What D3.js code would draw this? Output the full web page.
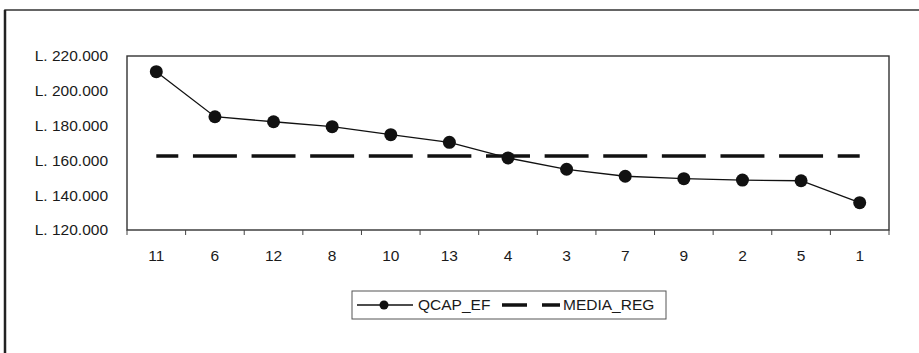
<!DOCTYPE html>
<html>
<head>
<meta charset="utf-8">
<script src="https://cdn.jsdelivr.net/npm/d3@7"></script>
<style>
  html, body { margin: 0; padding: 0; background: #fff; }
  svg { display: block; }
  text { font-family: "Liberation Sans", Arial, sans-serif; fill: #1a1a1a; }
</style>
</head>
<body>
<svg id="chart" width="919" height="353"></svg>
<script>
// Cost per unit by region, sorted descending, with the regional average
const categories = ["11", "6", "12", "8", "10", "13", "4", "3", "7", "9", "2", "5", "1"];
const qcapEf = [211000, 185100, 182200, 179400, 174800, 170400, 161400, 154900, 150900, 149500, 148700, 148300, 135700];
const mediaReg = 162500;
const yTicks = [120000, 140000, 160000, 180000, 200000, 220000];
const seriesNames = ["QCAP_EF", "MEDIA_REG"];

const svg = d3.select("#chart");
const W = 919, H = 353;
const plot = { left: 127, top: 56, right: 889, bottom: 230 };
const fontSize = 15.5;

// Outer frame (extends past the visible edge on the right and bottom)
svg.append("rect")
  .attr("x", 5).attr("y", 10)
  .attr("width", W + 20).attr("height", H + 20)
  .attr("fill", "none").attr("stroke", "#333").attr("stroke-width", 1.5);
svg.append("line")
  .attr("x1", 5).attr("x2", 5).attr("y1", 10).attr("y2", H)
  .attr("stroke", "#222").attr("stroke-width", 2.5);

const x = d3.scaleBand().domain(categories).range([plot.left, plot.right]);
const y = d3.scaleLinear().domain([120000, 220000]).range([plot.bottom, plot.top]);
const cx = d => x(d) + x.bandwidth() / 2;

// Plot area border
svg.append("rect")
  .attr("x", plot.left).attr("y", plot.top)
  .attr("width", plot.right - plot.left).attr("height", plot.bottom - plot.top)
  .attr("fill", "none").attr("stroke", "#333").attr("stroke-width", 1.4);

// Y axis labels, "L. 220.000" style
const fmt = v => "L. " + d3.format(",")(v).replace(/,/g, ".");
svg.append("g").selectAll("text")
  .data(yTicks).join("text")
  .attr("x", 108).attr("y", d => y(d))
  .attr("dy", "0.35em")
  .attr("text-anchor", "end")
  .attr("font-size", fontSize)
  .text(fmt);

// X axis ticks at category boundaries
const bounds = categories.map(c => x(c)).concat([plot.right]);
svg.append("g").selectAll("line")
  .data(bounds).join("line")
  .attr("x1", d => d).attr("x2", d => d)
  .attr("y1", plot.bottom).attr("y2", plot.bottom + 5)
  .attr("stroke", "#444").attr("stroke-width", 1);

svg.append("g").selectAll("text")
  .data(categories).join("text")
  .attr("x", d => cx(d)).attr("y", plot.bottom + 26)
  .attr("dy", "0.35em")
  .attr("text-anchor", "middle")
  .attr("font-size", fontSize)
  .text(d => d);

// Regional average: dashes centred on each category
const step = x.step();
const dash = step * 0.75, gap = step - dash;
svg.append("line")
  .attr("x1", cx(categories[0])).attr("x2", cx(categories[categories.length - 1]))
  .attr("y1", y(mediaReg)).attr("y2", y(mediaReg))
  .attr("stroke", "#111").attr("stroke-width", 3.5)
  .attr("stroke-dasharray", `${dash} ${gap}`)
  .attr("stroke-dashoffset", dash / 2);

// QCAP_EF line and markers
const line = d3.line().x((d, i) => cx(categories[i])).y(d => y(d));
svg.append("path")
  .datum(qcapEf)
  .attr("d", line)
  .attr("fill", "none").attr("stroke", "#111").attr("stroke-width", 1.3);
svg.append("g").selectAll("circle")
  .data(qcapEf).join("circle")
  .attr("cx", (d, i) => cx(categories[i])).attr("cy", d => y(d))
  .attr("r", 6.5).attr("fill", "#111");

// Legend
const lg = svg.append("g");
lg.append("rect")
  .attr("x", 352).attr("y", 291).attr("width", 314).attr("height", 28)
  .attr("fill", "#fff").attr("stroke", "#555").attr("stroke-width", 1);
const ly = 305;
lg.append("line").attr("x1", 357).attr("x2", 413).attr("y1", ly).attr("y2", ly)
  .attr("stroke", "#111").attr("stroke-width", 1.3);
lg.append("circle").attr("cx", 384).attr("cy", ly).attr("r", 4.5).attr("fill", "#111");
lg.append("text").attr("x", 418).attr("y", ly).attr("dy", "0.35em")
  .attr("font-size", fontSize).text(seriesNames[0]);
lg.append("line").attr("x1", 502).attr("x2", 560).attr("y1", ly).attr("y2", ly)
  .attr("stroke", "#111").attr("stroke-width", 3.5)
  .attr("stroke-dasharray", "25 15 18");
lg.append("text").attr("x", 563).attr("y", ly).attr("dy", "0.35em")
  .attr("font-size", fontSize).text(seriesNames[1]);
</script>
</body>
</html>
